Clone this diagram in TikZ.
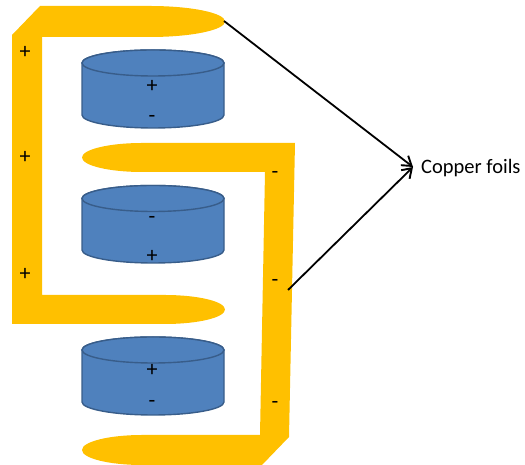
\documentclass[tikz,border=0pt]{standalone}
\usepackage{fontspec}
\setmainfont{Carlito}
\usetikzlibrary{arrows.meta}
\definecolor{foil}{HTML}{FFC000}
\definecolor{cellfill}{HTML}{4F81BD}
\definecolor{cellline}{HTML}{385D8A}
\tikzset{
  foilshape/.style={fill=foil, draw=none},
  cellbody/.style={fill=cellfill, draw=cellline, line width=1.4pt},
  sign/.style={inner sep=0pt, font=\fontsize{22}{22}\selectfont},
  pointer/.style={line width=1.8pt, -{Straight Barb[length=9pt,width=12pt,line width=1.9pt]}},
  label/.style={anchor=west, inner sep=0pt, font=\fontsize{20.5}{20.5}\selectfont}
}
\begin{document}
\begin{tikzpicture}[x=1pt,y=1pt]
\useasboundingbox (0,0) rectangle (525,465);

% positive copper foil (left, wraps top and middle)
\fill[foilshape] (40,459) -- (150,459)
  arc[start angle=90,end angle=-90,x radius=75,y radius=15.5]
  -- (42,428) -- (42,170) -- (165,170)
  arc[start angle=90,end angle=-90,x radius=60,y radius=14.5]
  -- (12,141) -- (12,430) -- cycle;

% negative copper foil (right, wraps middle and bottom)
\fill[foilshape] (142,322) -- (295,322) -- (289,28) -- (262,0) -- (142,0)
  arc[start angle=270,end angle=90,x radius=60,y radius=15]
  -- (260,30) -- (265,293) -- (142,293)
  arc[start angle=270,end angle=90,x radius=60,y radius=14.5]
  -- cycle;

% cells
\foreach \yt/\yb in {402/350, 266.5/215, 115/63}{
  \filldraw[cellbody] (82,\yt) -- (82,\yb)
    arc[start angle=180,end angle=360,x radius=71,y radius=13]
    -- (224,\yt)
    arc[start angle=0,end angle=180,x radius=71,y radius=13] -- cycle;
  \draw[cellbody] (153,\yt) ellipse[x radius=71,y radius=13];
}

% cell polarity signs
\node[sign] (c1p) at (152,379) {+};
\node[sign] (c1m) at (152,346) {-};
\node[sign] (c2m) at (152,245) {-};
\node[sign] (c2p) at (152,209) {+};
\node[sign] (c3p) at (152,95) {+};
\node[sign] (c3m) at (152,61) {-};

% foil polarity signs
\node[sign] (fp1) at (25,413) {+};
\node[sign] (fp2) at (25,308) {+};
\node[sign] (fp3) at (25,191) {+};
\node[sign] (fm1) at (275,290) {-};
\node[sign] (fm2) at (275,182) {-};
\node[sign] (fm3) at (275,60) {-};

% label and pointers
\node[label] (cf) at (421,297) {Copper foils};
\coordinate (tipA) at (224,444);
\coordinate (tipB) at (288,175);
\coordinate (meet) at (413,298);
\draw[pointer] (tipA) -- (meet);
\draw[pointer] (tipB) -- (meet);
\end{tikzpicture}
\end{document}
